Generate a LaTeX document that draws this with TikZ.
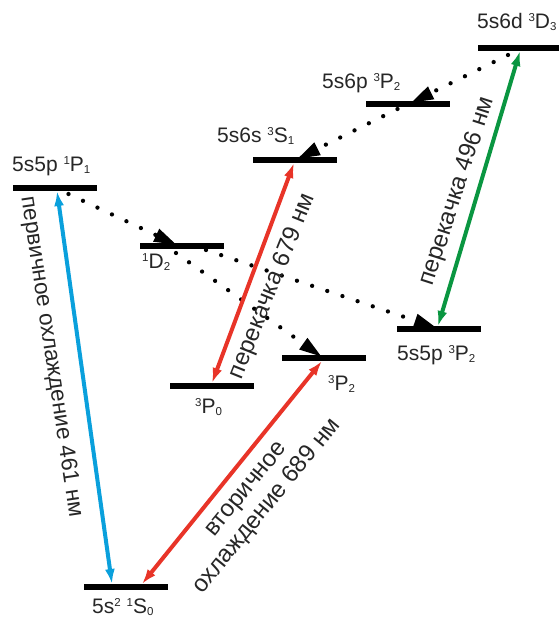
\documentclass[tikz,border=0pt]{standalone}
\usepackage{fontspec}
\setmainfont{Liberation Sans}
\usetikzlibrary{arrows.meta,calc}
\definecolor{cblue}{RGB}{10,160,220}
\definecolor{cred}{RGB}{232,52,40}
\definecolor{cgreen}{RGB}{10,150,65}
\newcommand\sU[1]{\raisebox{0.32em}{\fontsize{11.5}{11.5}\selectfont #1}}
\newcommand\sD[1]{\raisebox{-0.14em}{\fontsize{11.5}{11.5}\selectfont #1}}
\begin{document}
\begin{tikzpicture}[x=1pt,y=-1pt,
  lvl/.style={fill=black, inner sep=0pt, minimum width=84pt, minimum height=5.5pt, draw=none},
  lbl/.style={font=\fontsize{21}{25}\selectfont, text=black!85, inner sep=0pt, anchor=base west},
  rlbl/.style={font=\fontsize{24}{27}\selectfont, text=black!85, inner sep=0pt, align=center},
  tr/.style={line width=4pt, {Latex[length=15pt,width=10pt]}-{Latex[length=15pt,width=10pt]}},
  dt/.style={line width=4.3pt, line cap=round, dash pattern=on 0pt off 16pt, -{Triangle[length=23pt,width=13pt]}},
]
\useasboundingbox (0,0) rectangle (559,619);
% levels
\node[lvl] (P1) at (54.5,188) {};
\node[lvl] (D2) at (182,246) {};
\node[lvl] (S1) at (295,160) {};
\node[lvl] (P2u) at (407.5,104) {};
\node[lvl] (D3) at (520,48) {};
\node[lvl] (P2) at (438.5,329) {};
\node[lvl] (P2l) at (323.5,358) {};
\node[lvl] (P0) at (211.5,386) {};
\node[lvl] (S0) at (126,587) {};
% level labels
\node[lbl] (lP1) at (12,171) {5s5p \sU{1}P\sD{1}};
\node[lbl] (lD2) at (142,268) {\sU{1}D\sD{2}};
\node[lbl] (lS1) at (217,142) {5s6s \sU{3}S\sD{1}};
\node[lbl] (lP2u) at (322,88) {5s6p \sU{3}P\sD{2}};
\node[lbl] (lD3) at (477,28) {5s6d \sU{3}D\sD{3}};
\node[lbl] (lP2) at (397,360) {5s5p \sU{3}P\sD{2}};
\node[lbl] (lP2l) at (328,390) {\sU{3}P\sD{2}};
\node[lbl] (lP0) at (195,413) {\sU{3}P\sD{0}};
\node[lbl] (lS0) at (92,613) {5s\sU{2} \sU{1}S\sD{0}};
% dotted decays
\draw[dt] ($(P1.center)+(14,6)$) -- ($(D2.center)+(-5,-1)$);
\draw[dt] ($(D2.center)+(24,4)$) -- ($(P2.center)+(-1.5,-1)$);
\draw[dt] ($(D2.center)+(-6,7)$) -- ($(P2l.center)+(-1.5,-1)$);
\draw[dt] ($(D3.center)+(-12,7)$) -- ($(P2u.center)+(3,-1)$);
\draw[dt] ($(P2u.center)+(-10,5)$) -- ($(S1.center)+(2,-1)$);
% laser transitions
\draw[tr, cblue] ($(P1.center)+(2.5,3)$) -- ($(S0.center)+(-14,-3)$);
\draw[tr, cred] ($(P0.center)+(0.5,-3)$) -- ($(S1.center)+(-1,3)$);
\draw[tr, cgreen] ($(P2.center)+(-0.5,-3)$) -- ($(D3.center)+(0,3)$);
\draw[tr, cred] ($(P2l.center)+(-1.5,3)$) -- ($(S0.center)+(16,-3)$);
% transition labels
\node[rlbl, font=\fontsize{22.6}{26}\selectfont, rotate=-81.4] (tA) at (51,357) {первичное охлаждение 461 нм};
\node[rlbl, rotate=68.1] (tB) at (272.5,286.5) {перекачка 679 нм};
\node[rlbl, rotate=72.1] (tC) at (457.5,191.5) {перекачка 496 нм};
\node[rlbl, rotate=50.7] (tD) at (258,499) {вторичное\\охлаждение 689 нм};
\end{tikzpicture}
\end{document}
